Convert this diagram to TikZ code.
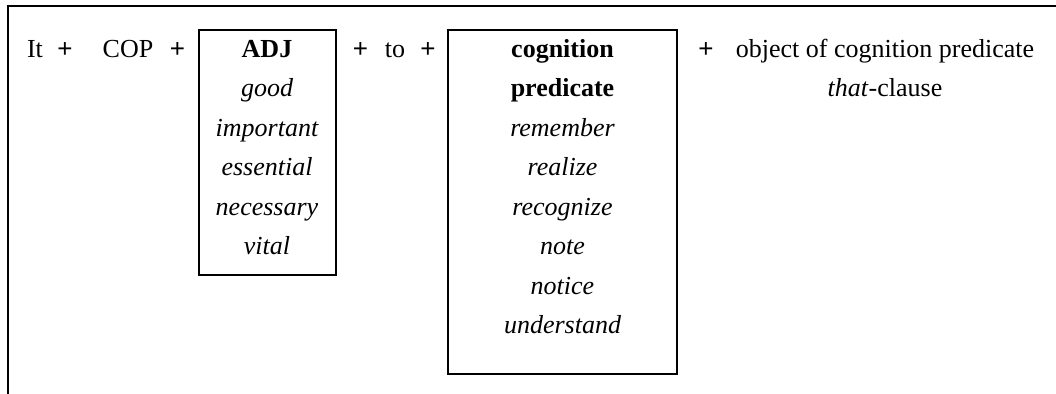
\documentclass[tikz,border=0pt]{standalone}
\usepackage{fontspec}
\setmainfont{Liberation Serif}
\newfontfamily\plusfont{Liberation Sans}
\tikzset{
  word/.style={anchor=base,inner sep=0pt,font=\fontsize{13}{16}\selectfont},
  head/.style={word,font=\fontsize{13}{16}\selectfont\bfseries},
  item/.style={word,font=\fontsize{13}{16}\selectfont\itshape},
  plus/.style={word,font=\plusfont\fontsize{13}{16}\selectfont},
  frame/.style={line width=1pt}
}
\begin{document}
\begin{tikzpicture}[x=.5pt,y=-.5pt]
\useasboundingbox (0,0) rectangle (1056,394);
% outer frame, open to the right and below
\draw[frame] (7.5,394) -- (7.5,6.5) -- (1056,6.5);
% the two boxes
\draw[frame] (198.5,30) rectangle (335.5,275);
\draw[frame] (448,30) rectangle (677,374);
% first row
\node[word] (it) at (35,57.5) {It};
\node[plus] (plus1) at (65,57.5) {+};
\node[word] (cop) at (128,57.5) {COP};
\node[plus] (plus2) at (177.5,57.5) {+};
\node[head] (adj) at (267,57.5) {ADJ};
\node[plus] (plus3) at (360.5,57.5) {+};
\node[word] (to) at (395,57.5) {to};
\node[plus] (plus4) at (428,57.5) {+};
\node[head] (cog) at (562.5,57.5) {cognition};
\node[plus] (plus5) at (706,57.5) {+};
\node[word] (obj) at (885,57.5) {object of cognition predicate};
% second row and below
\node[word] (that) at (885,97) {\textit{that}-clause};
\node[head] (pred) at (562.5,97) {predicate};
\foreach \w [count=\i from 2] in {good,important,essential,necessary,vital}
  \node[item] (adj\i) at (267,{57.5+(\i-1)*39.5}) {\w};
\foreach \w [count=\i from 3] in {remember,realize,recognize,note,notice,understand}
  \node[item] (cog\i) at (562.5,{57.5+(\i-1)*39.5}) {\w};
\end{tikzpicture}
\end{document}
